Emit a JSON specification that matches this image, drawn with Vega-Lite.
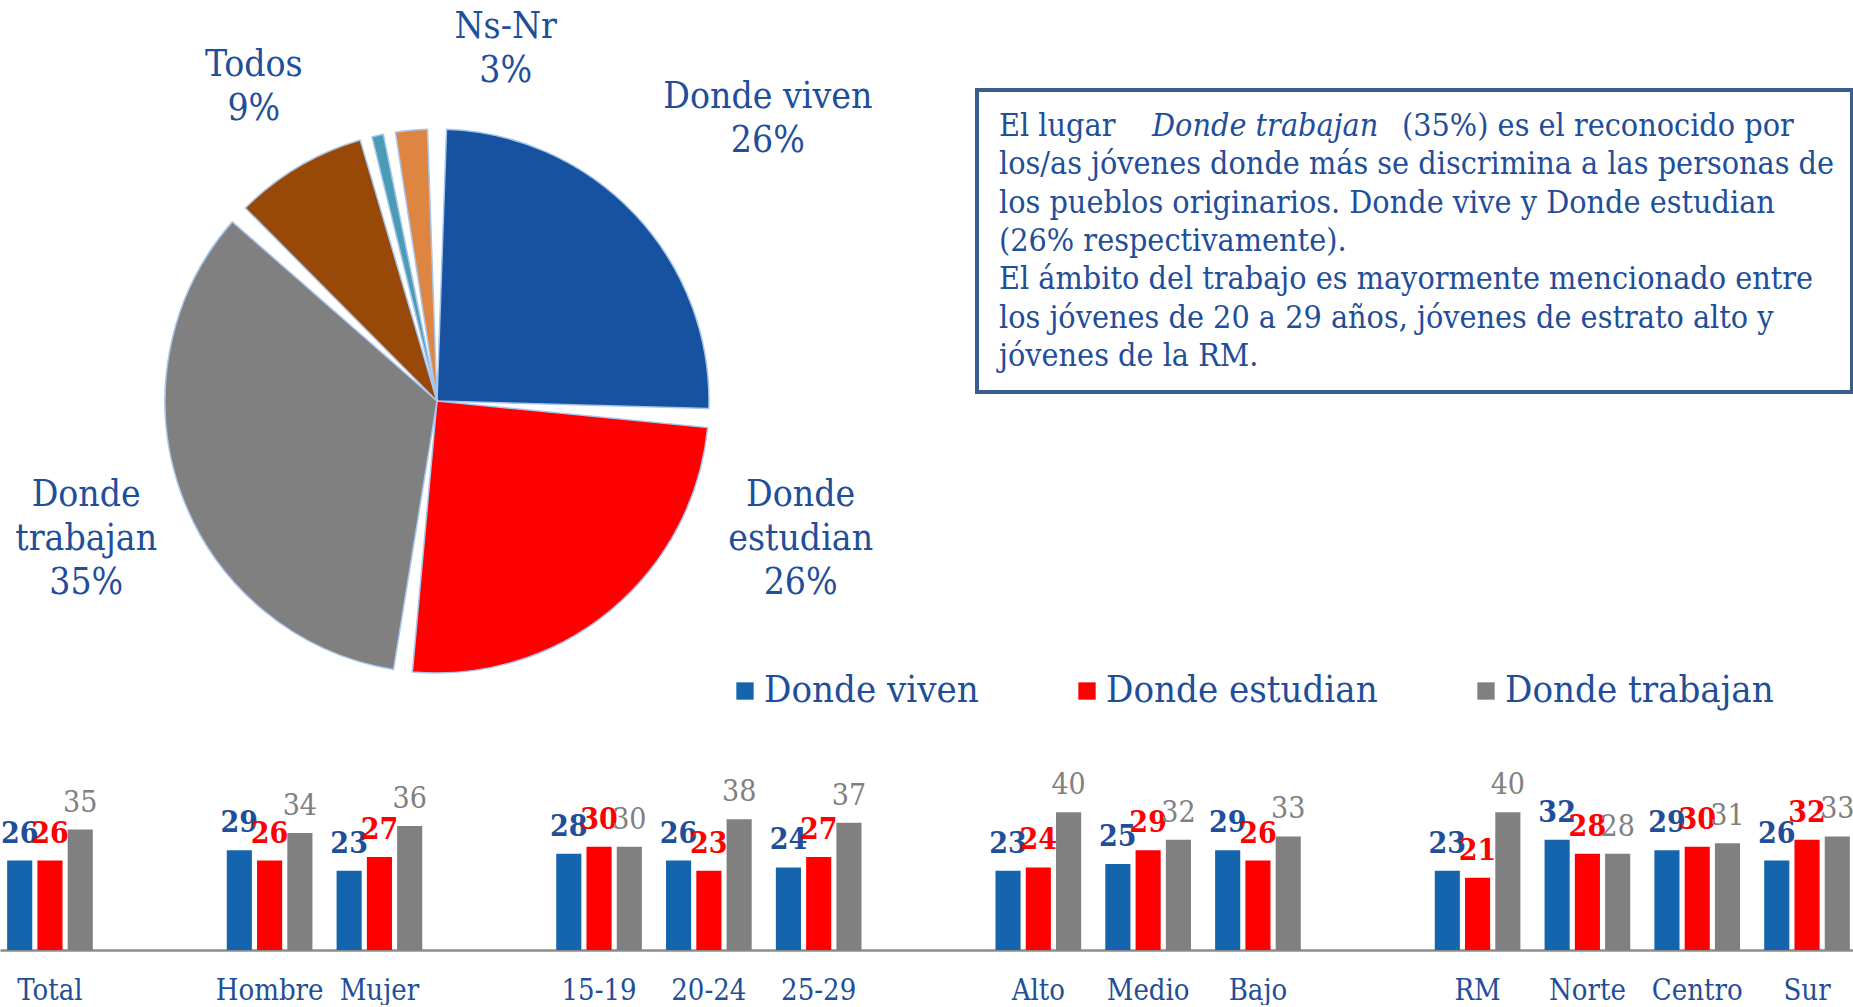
{
  "$schema": "https://vega.github.io/schema/vega-lite/v6.json",
  "padding": 0,
  "background": "white",
  "bounds": "flush",
  "spacing": 802,
  "resolve": {"scale": {"color": "independent"}, "legend": {"color": "independent"}},
  "config": {
    "view": {"stroke": null},
    "font": "DejaVu Serif Condensed",
    "text": {"font": "DejaVu Serif Condensed"}
  },
  "vconcat": [
    {
      "bounds": "flush",
      "spacing": 103,
      "hconcat": [
        {
          "width": 874,
          "height": 802,
          "data": {
            "values": [
              {"cat": "Donde viven", "valor": 26, "orden": 1, "etiqueta": "Donde viven\n26%"},
              {"cat": "Donde estudian", "valor": 26, "orden": 2, "etiqueta": "Donde\nestudian\n26%"},
              {"cat": "Donde trabajan", "valor": 35, "orden": 3, "etiqueta": "Donde\ntrabajan\n35%"},
              {"cat": "Todos", "valor": 9, "orden": 4, "etiqueta": "Todos\n9%"},
              {"cat": "Otro", "valor": 1, "orden": 5, "etiqueta": ""},
              {"cat": "Ns-Nr", "valor": 3, "orden": 6, "etiqueta": "Ns-Nr\n3%"}
            ]
          },
          "transform": [
            {"stack": "valor", "groupby": [], "sort": [{"field": "orden", "order": "ascending"}], "as": ["t0", "t1"]}
          ],
          "layer": [
            {
              "transform": [{"filter": "datum.cat != 'Otro'"}],
              "mark": {"type": "arc", "radius": 272, "padAngle": 0.07, "stroke": "#A8C6EC", "strokeWidth": 1.5},
              "encoding": {
                "theta": {"field": "t0", "type": "quantitative", "stack": null, "scale": {"domain": [0, 100]}},
                "theta2": {"field": "t1"},
                "color": {
                  "field": "cat", "type": "nominal", "legend": null,
                  "scale": {
                    "domain": ["Donde viven", "Donde estudian", "Donde trabajan", "Todos", "Otro", "Ns-Nr"],
                    "range": ["#1652A0", "#FF0000", "#808080", "#984807", "#4A9BB4", "#DE8641"]
                  }
                }
              }
            },
            {
              "transform": [{"filter": "datum.cat == 'Otro'"}],
              "mark": {"type": "arc", "radius": 272, "padAngle": 0.02, "stroke": "#A8C6EC", "strokeWidth": 1.5},
              "encoding": {
                "theta": {"field": "t0", "type": "quantitative", "stack": null},
                "theta2": {"field": "t1"},
                "color": {"field": "cat", "type": "nominal", "legend": null}
              }
            },
            {
              "transform": [{"filter": "datum.cat == 'Donde viven'"}],
              "mark": {"type": "text", "radius": 435, "thetaOffset": 0.864, "dy": -22, "fontSize": 37, "lineHeight": 44, "lineBreak": "\n", "color": "#1F4E9A", "align": "center", "baseline": "middle"},
              "encoding": {"theta": {"field": "t0", "type": "quantitative", "stack": null}, "text": {"field": "etiqueta"}}
            },
            {
              "transform": [{"filter": "datum.cat == 'Donde estudian'"}],
              "mark": {"type": "text", "radius": 389, "thetaOffset": 0.300, "dy": -44, "fontSize": 37, "lineHeight": 44, "lineBreak": "\n", "color": "#1F4E9A", "align": "center", "baseline": "middle"},
              "encoding": {"theta": {"field": "t0", "type": "quantitative", "stack": null}, "text": {"field": "etiqueta"}}
            },
            {
              "transform": [{"filter": "datum.cat == 'Donde trabajan'"}],
              "mark": {"type": "text", "radius": 377, "thetaOffset": 1.070, "dy": -44, "fontSize": 37, "lineHeight": 44, "lineBreak": "\n", "color": "#1F4E9A", "align": "center", "baseline": "middle"},
              "encoding": {"theta": {"field": "t0", "type": "quantitative", "stack": null}, "text": {"field": "etiqueta"}}
            },
            {
              "transform": [{"filter": "datum.cat == 'Todos'"}],
              "mark": {"type": "text", "radius": 365, "thetaOffset": 0.291, "dy": -20, "fontSize": 37, "lineHeight": 44, "lineBreak": "\n", "color": "#1F4E9A", "align": "center", "baseline": "middle"},
              "encoding": {"theta": {"field": "t0", "type": "quantitative", "stack": null}, "text": {"field": "etiqueta"}}
            },
            {
              "transform": [{"filter": "datum.cat == 'Ns-Nr'"}],
              "mark": {"type": "text", "radius": 361, "thetaOffset": 0.380, "dy": -20, "fontSize": 37, "lineHeight": 44, "lineBreak": "\n", "color": "#1F4E9A", "align": "center", "baseline": "middle"},
              "encoding": {"theta": {"field": "t0", "type": "quantitative", "stack": null}, "text": {"field": "etiqueta"}}
            }
          ]
        },
        {
          "bounds": "flush",
          "spacing": 0,
          "vconcat": [
            {
              "width": 875,
              "height": 90,
              "data": {"values": [{"vacio": ""}]},
              "mark": {"type": "text"},
              "encoding": {}
            },
            {
              "width": 875,
              "height": 302,
              "view": {"stroke": "#3A5F8E", "strokeWidth": 4},
              "data": {
                "values": [
                  {"linea": 1, "segmento": 1, "texto": "El lugar"},
                  {"linea": 1, "segmento": 2, "texto": "Donde trabajan"},
                  {"linea": 1, "segmento": 3, "texto": "(35%) es el reconocido por"},
                  {"linea": 2, "segmento": 1, "texto": "los/as jóvenes donde más se discrimina a las personas de"},
                  {"linea": 3, "segmento": 1, "texto": "los pueblos originarios. Donde vive y Donde estudian"},
                  {"linea": 4, "segmento": 1, "texto": "(26% respectivamente)."},
                  {"linea": 5, "segmento": 1, "texto": "El ámbito del trabajo es mayormente mencionado entre"},
                  {"linea": 6, "segmento": 1, "texto": "los jóvenes de 20 a 29 años, jóvenes de estrato alto y"},
                  {"linea": 7, "segmento": 1, "texto": "jóvenes de la RM."}
                ]
              },
              "encoding": {
                "x": {"datum": 0, "type": "quantitative", "scale": {"domain": [0, 1]}, "axis": null},
                "y": {"field": "linea", "type": "ordinal", "axis": null, "scale": {"type": "point", "padding": 0.93}},
                "text": {"field": "texto"}
              },
              "layer": [
                {
                  "transform": [{"filter": "datum.segmento == 1"}],
                  "mark": {"type": "text", "align": "left", "baseline": "middle", "fontSize": 32, "color": "#1F4E9A", "dx": 22}
                },
                {
                  "transform": [{"filter": "datum.segmento == 2"}],
                  "mark": {"type": "text", "align": "left", "baseline": "middle", "fontSize": 32, "fontStyle": "italic", "color": "#1F4E9A", "dx": 175}
                },
                {
                  "transform": [{"filter": "datum.segmento == 3"}],
                  "mark": {"type": "text", "align": "left", "baseline": "middle", "fontSize": 32, "color": "#1F4E9A", "dx": 425}
                }
              ]
            }
          ]
        }
      ]
    },
    {
      "width": 1857,
      "height": 148,
      "data": {
        "values": [
          {"grupo": "Total", "serie": "Donde viven", "valor": 26},
          {"grupo": "Total", "serie": "Donde estudian", "valor": 26},
          {"grupo": "Total", "serie": "Donde trabajan", "valor": 35},
          {"grupo": "Hombre", "serie": "Donde viven", "valor": 29},
          {"grupo": "Hombre", "serie": "Donde estudian", "valor": 26},
          {"grupo": "Hombre", "serie": "Donde trabajan", "valor": 34},
          {"grupo": "Mujer", "serie": "Donde viven", "valor": 23},
          {"grupo": "Mujer", "serie": "Donde estudian", "valor": 27},
          {"grupo": "Mujer", "serie": "Donde trabajan", "valor": 36},
          {"grupo": "15-19", "serie": "Donde viven", "valor": 28},
          {"grupo": "15-19", "serie": "Donde estudian", "valor": 30},
          {"grupo": "15-19", "serie": "Donde trabajan", "valor": 30},
          {"grupo": "20-24", "serie": "Donde viven", "valor": 26},
          {"grupo": "20-24", "serie": "Donde estudian", "valor": 23},
          {"grupo": "20-24", "serie": "Donde trabajan", "valor": 38},
          {"grupo": "25-29", "serie": "Donde viven", "valor": 24},
          {"grupo": "25-29", "serie": "Donde estudian", "valor": 27},
          {"grupo": "25-29", "serie": "Donde trabajan", "valor": 37},
          {"grupo": "Alto", "serie": "Donde viven", "valor": 23},
          {"grupo": "Alto", "serie": "Donde estudian", "valor": 24},
          {"grupo": "Alto", "serie": "Donde trabajan", "valor": 40},
          {"grupo": "Medio", "serie": "Donde viven", "valor": 25},
          {"grupo": "Medio", "serie": "Donde estudian", "valor": 29},
          {"grupo": "Medio", "serie": "Donde trabajan", "valor": 32},
          {"grupo": "Bajo", "serie": "Donde viven", "valor": 29},
          {"grupo": "Bajo", "serie": "Donde estudian", "valor": 26},
          {"grupo": "Bajo", "serie": "Donde trabajan", "valor": 33},
          {"grupo": "RM", "serie": "Donde viven", "valor": 23},
          {"grupo": "RM", "serie": "Donde estudian", "valor": 21},
          {"grupo": "RM", "serie": "Donde trabajan", "valor": 40},
          {"grupo": "Norte", "serie": "Donde viven", "valor": 32},
          {"grupo": "Norte", "serie": "Donde estudian", "valor": 28},
          {"grupo": "Norte", "serie": "Donde trabajan", "valor": 28},
          {"grupo": "Centro", "serie": "Donde viven", "valor": 29},
          {"grupo": "Centro", "serie": "Donde estudian", "valor": 30},
          {"grupo": "Centro", "serie": "Donde trabajan", "valor": 31},
          {"grupo": "Sur", "serie": "Donde viven", "valor": 26},
          {"grupo": "Sur", "serie": "Donde estudian", "valor": 32},
          {"grupo": "Sur", "serie": "Donde trabajan", "valor": 33}
        ]
      },
      "encoding": {
        "x": {
          "field": "grupo", "type": "nominal", "title": null,
          "scale": {
            "domain": ["Total", " ", "Hombre", "Mujer", "  ", "15-19", "20-24", "25-29", "   ", "Alto", "Medio", "Bajo", "    ", "RM", "Norte", "Centro", "Sur"],
            "paddingInner": 0.22, "paddingOuter": 0.065
          },
          "axis": {
            "labelAngle": 0, "ticks": false, "domainColor": "#8C8C8C", "domainWidth": 2.5,
            "labelFont": "DejaVu Serif Condensed", "labelFontSize": 29, "labelColor": "#1F4E9A",
            "labelPadding": 26, "grid": false
          }
        },
        "xOffset": {
          "field": "serie", "type": "nominal",
          "scale": {"domain": ["Donde viven", "Donde estudian", "Donde trabajan"], "paddingInner": 0.17, "paddingOuter": 0}
        },
        "y": {"field": "valor", "type": "quantitative", "axis": null, "scale": {"domain": [0, 43], "nice": false}}
      },
      "layer": [
        {
          "mark": {"type": "bar"},
          "encoding": {
            "color": {
              "field": "serie", "type": "nominal",
              "scale": {"domain": ["Donde viven", "Donde estudian", "Donde trabajan"], "range": ["#1565AE", "#FF0000", "#808080"]},
              "legend": {
                "orient": "none", "legendX": 726, "legendY": -130, "direction": "horizontal", "title": null,
                "symbolType": "square", "symbolSize": 300, "symbolStrokeWidth": 0, "labelOffset": 0,
                "labelFont": "DejaVu Serif Condensed", "labelFontSize": 38, "labelColor": "#1F4E9A",
                "labelLimit": 500, "columnPadding": 89
              }
            }
          }
        },
        {
          "transform": [{"filter": "datum.serie != 'Donde trabajan'"}],
          "mark": {"type": "text", "baseline": "alphabetic", "dy": -18, "fontSize": 30, "fontWeight": "bold"},
          "encoding": {
            "text": {"field": "valor", "type": "quantitative"},
            "color": {"condition": {"test": "datum.serie == 'Donde viven'", "value": "#1F4E9A"}, "value": "#FF0000"}
          }
        },
        {
          "transform": [{"filter": "datum.serie == 'Donde trabajan'"}],
          "mark": {"type": "text", "baseline": "alphabetic", "dy": -18, "fontSize": 30, "color": "#808080"},
          "encoding": {
            "text": {"field": "valor", "type": "quantitative"}
          }
        }
      ]
    }
  ]
}
